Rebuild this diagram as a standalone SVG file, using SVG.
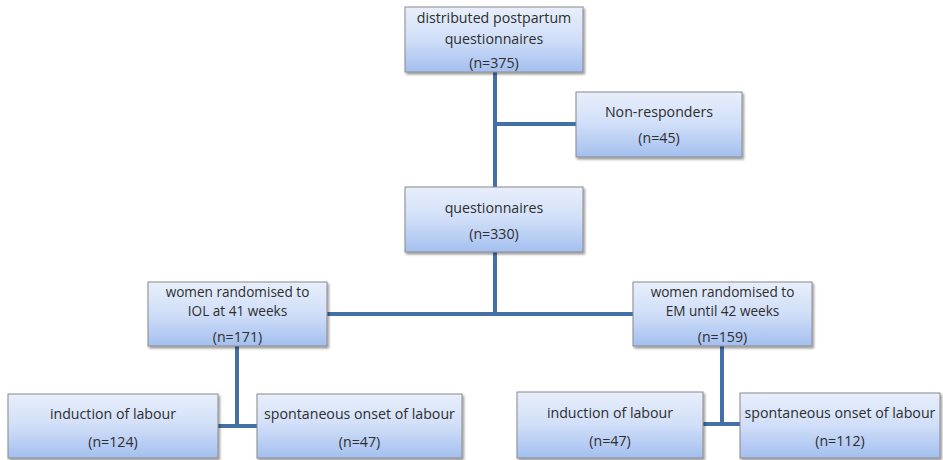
<svg xmlns="http://www.w3.org/2000/svg" width="943" height="460" viewBox="0 0 943 460">
<defs>
<linearGradient id="g" x1="0" y1="0" x2="0" y2="1">
<stop offset="0" stop-color="#e8effb"/>
<stop offset="0.5" stop-color="#d0def8"/>
<stop offset="1" stop-color="#a3bfef"/>
</linearGradient>
<filter id="sh" x="-10%" y="-10%" width="125%" height="130%">
<feDropShadow dx="1.5" dy="2" stdDeviation="1.2" flood-color="#000" flood-opacity="0.4"/>
</filter>
</defs>
<style>
.box{fill:url(#g);stroke:#8a8a8a;stroke-width:1;filter:url(#sh)}
text{font-family:"Open Sans","Liberation Sans",sans-serif;font-size:14.2px;fill:#2e2e2e;text-anchor:middle}
.t{font-size:13.6px}
.c{fill:none;stroke:#4470a8;stroke-width:4}
</style>
<rect width="943" height="460" fill="#fff"/>
<g id="connectors">
<path class="c" d="M495 72V187M495 124H576M495 252V314H327M495 314H633"/>
<path class="c" d="M237 346V426M218 426H257"/>
<path class="c" d="M722 346V424M703 424H740"/>
</g>
<g id="n1"><rect class="box" x="405" y="7" width="178" height="65"/>
<text x="494" y="23">distributed postpartum</text><text x="494" y="44">questionnaires</text><text x="494" y="68">(n=375)</text></g>
<g id="n2"><rect class="box" x="576" y="92" width="166" height="65"/>
<text x="659" y="117">Non-responders</text><text x="659" y="143">(n=45)</text></g>
<g id="n3"><rect class="box" x="405" y="187" width="178" height="65"/>
<text x="494" y="213">questionnaires</text><text x="494" y="239">(n=330)</text></g>
<g id="n4"><rect class="box" x="148" y="282" width="179" height="64"/>
<text class="t" x="237.5" y="296.5">women randomised to</text><text class="t" x="237.5" y="315.5">IOL at 41 weeks</text><text x="237.5" y="342">(n=171)</text></g>
<g id="n5"><rect class="box" x="633" y="282" width="179" height="64"/>
<text class="t" x="722.5" y="296.5">women randomised to</text><text class="t" x="722.5" y="315.5">EM until 42 weeks</text><text x="722.5" y="342">(n=159)</text></g>
<g id="n6"><rect class="box" x="8" y="394" width="210" height="64"/>
<text x="113" y="419">induction of labour</text><text x="113" y="447">(n=124)</text></g>
<g id="n7"><rect class="box" x="257" y="394" width="205" height="64"/>
<text x="359.5" y="419">spontaneous onset of labour</text><text x="359.5" y="447">(n=47)</text></g>
<g id="n8"><rect class="box" x="517" y="392" width="186" height="66"/>
<text x="610" y="418">induction of labour</text><text x="610" y="446">(n=47)</text></g>
<g id="n9"><rect class="box" x="740" y="393" width="200" height="65"/>
<text x="840" y="418">spontaneous onset of labour</text><text x="840" y="446">(n=112)</text></g>
</svg>
